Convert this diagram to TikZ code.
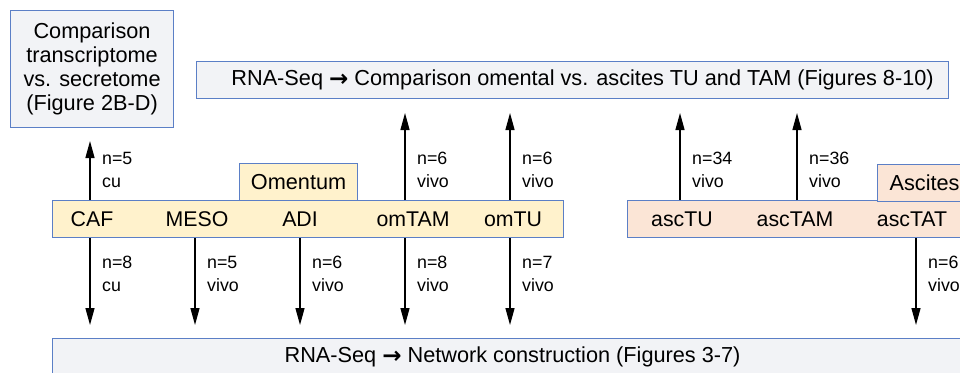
\documentclass[tikz,border=0pt]{standalone}
\usepackage{fontspec}
\setmainfont{Liberation Sans}
\newfontfamily\arrfont{DejaVu Sans}
\usetikzlibrary{arrows.meta}
\definecolor{bordc}{HTML}{5B7FC6}
\definecolor{grayf}{HTML}{F2F3F6}
\definecolor{yelf}{HTML}{FFF2CC}
\definecolor{peachf}{HTML}{FBE5D6}
\newcommand{\rarr}{{\arrfont\bfseries\fontsize{23}{24}\selectfont\raisebox{-1pt}{→}}}
\begin{document}
\begin{tikzpicture}[x=1pt,y=-1pt,
  box/.style={draw=bordc, line width=1.1pt, inner sep=0pt, align=center,
    font=\fontsize{21.7}{24.2}\selectfont, anchor=north west},
  grbox/.style={box, fill=grayf},
  ombox/.style={box, fill=yelf},
  ascbox/.style={box, fill=peachf},
  cell/.style={inner sep=0pt, font=\fontsize{21.3}{24}\selectfont},
  lab/.style={inner sep=0pt, anchor=base west, font=\fontsize{17.8}{20}\selectfont},
  arr/.style={line width=1.3pt, -{Triangle[length=17pt,width=9pt]}}]
\useasboundingbox (0,0) rectangle (960,372);
\clip (0,0) rectangle (960,372);
% boxes
\node[grbox, minimum width=163pt, minimum height=117pt] (cmp) at (10,10)
  {Comparison\\transcriptome\\vs. secretome\\(Figure 2B-D)};
\node[grbox, minimum width=752pt, minimum height=37pt] (top) at (196,61)
  {\hspace{20pt}RNA-Seq \rarr{} Comparison omental vs. ascites TU and TAM (Figures 8-10)};
\node[ombox, minimum width=118pt, minimum height=37pt] (omtab) at (239,163) {Omentum};
\node[ombox, minimum width=511pt, minimum height=37pt] (omb) at (52,200) {};
\node[ascbox, minimum width=420pt, minimum height=37pt] (ascb) at (627,200) {};
\node[ascbox, minimum width=94pt, minimum height=37pt] (asctab) at (877,164) {Ascites};
\node[grbox, minimum width=920pt, minimum height=37pt] (bot) at (52,338)
  {RNA-Seq \rarr{} Network construction (Figures 3-7)};
% cells
\node[cell] (caf) at (92,219) {CAF};
\node[cell] (meso) at (197,219) {MESO};
\node[cell] (adi) at (300,219) {ADI};
\node[cell] (omtam) at (413,219) {omTAM};
\node[cell] (omtu) at (513,219) {omTU};
\node[cell] (asctu) at (682,219) {ascTU};
\node[cell] (asctam) at (795,219) {ascTAM};
\node[cell] (asctat) at (912,219) {ascTAT};
% arrow tips
\coordinate (uCAF) at (90,141);
\coordinate (uTAM) at (405,113);
\coordinate (uTU) at (510,113);
\coordinate (uaTU) at (680,113);
\coordinate (uaTAM) at (797,113);
\coordinate (dCAF) at (90,325);
\coordinate (dMESO) at (195,325);
\coordinate (dADI) at (300,325);
\coordinate (dTAM) at (405,325);
\coordinate (dTU) at (510,325);
\coordinate (daTAT) at (916,325);
\draw[arr] (uCAF |- omb.north) -- (uCAF);
\draw[arr] (uTAM |- omb.north) -- (uTAM);
\draw[arr] (uTU |- omb.north) -- (uTU);
\draw[arr] (uaTU |- ascb.north) -- (uaTU);
\draw[arr] (uaTAM |- ascb.north) -- (uaTAM);
\draw[arr] (dCAF |- omb.south) -- (dCAF);
\draw[arr] (dMESO |- omb.south) -- (dMESO);
\draw[arr] (dADI |- omb.south) -- (dADI);
\draw[arr] (dTAM |- omb.south) -- (dTAM);
\draw[arr] (dTU |- omb.south) -- (dTU);
\draw[arr] (daTAT |- ascb.south) -- (daTAT);
% labels up
\node[lab] (l1a) at (102,164) {n=5};  \node[lab] (l1b) at (102,187) {cu};
\node[lab] (l2a) at (417,164) {n=6};  \node[lab] (l2b) at (417,187) {vivo};
\node[lab] (l3a) at (522,164) {n=6};  \node[lab] (l3b) at (522,187) {vivo};
\node[lab] (l4a) at (692,164) {n=34}; \node[lab] (l4b) at (692,187) {vivo};
\node[lab] (l5a) at (809,164) {n=36}; \node[lab] (l5b) at (809,187) {vivo};
% labels down
\node[lab] (d1a) at (102,268) {n=8}; \node[lab] (d1b) at (102,291) {cu};
\node[lab] (d2a) at (207,268) {n=5}; \node[lab] (d2b) at (207,291) {vivo};
\node[lab] (d3a) at (312,268) {n=6}; \node[lab] (d3b) at (312,291) {vivo};
\node[lab] (d4a) at (417,268) {n=8}; \node[lab] (d4b) at (417,291) {vivo};
\node[lab] (d5a) at (522,268) {n=7}; \node[lab] (d5b) at (522,291) {vivo};
\node[lab] (d6a) at (928,268) {n=6}; \node[lab] (d6b) at (928,291) {vivo};
\end{tikzpicture}
\end{document}
